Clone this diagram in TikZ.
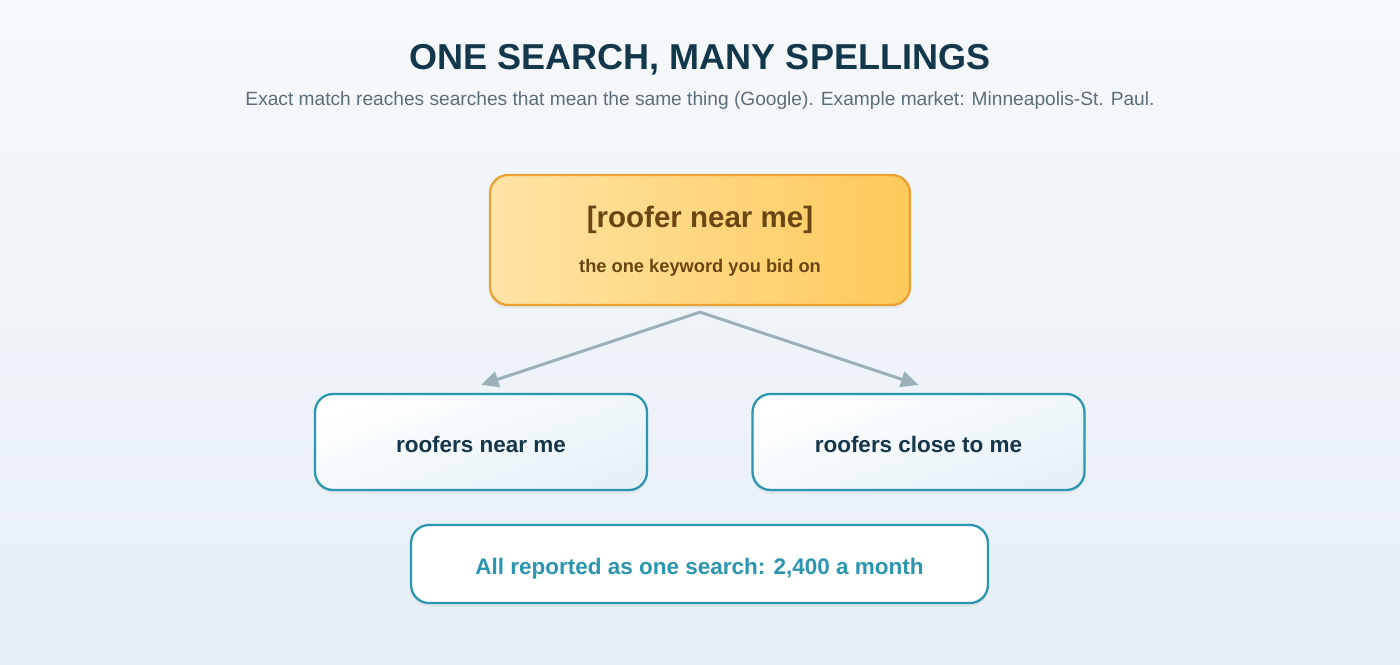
\documentclass[tikz,border=0pt]{standalone}
\usepackage{fontspec}
\setmainfont{Liberation Sans}
\usetikzlibrary{arrows.meta,shadows}

\definecolor{bgtop}{HTML}{F6F9FC}
\definecolor{bgbot}{HTML}{E6EEF4}
\definecolor{titleblue}{HTML}{13374B}
\definecolor{subgray}{HTML}{5B6E7A}
\definecolor{kwleft}{HTML}{FFE4A6}
\definecolor{kwright}{HTML}{FFC95A}
\definecolor{kwborder}{HTML}{E9A131}
\definecolor{kwtext}{HTML}{6A4712}
\definecolor{teal}{HTML}{2C95AF}
\definecolor{childlo}{HTML}{E5F1F7}
\definecolor{childtext}{HTML}{15364A}
\definecolor{arrowgray}{HTML}{9CB0B9}

\tikzset{
  box/.style={rounded corners=0.36cm, line width=1.3pt, inner sep=0pt,
    drop shadow={opacity=0.10, shadow xshift=0pt, shadow yshift=-2pt}},
  keybox/.style={box, draw=kwborder, left color=kwleft, right color=kwright,
    minimum width=8.4cm, minimum height=2.6cm},
  spellbox/.style={box, draw=teal, top color=white, bottom color=childlo,
    shading angle=20, minimum width=6.64cm, minimum height=1.92cm},
  totalbox/.style={box, draw=teal, fill=white,
    minimum width=11.54cm, minimum height=1.56cm},
  flow/.style={draw=arrowgray, line width=1.7pt, -{Triangle[length=10pt,width=9pt]}}
}

\begin{document}
\begin{tikzpicture}[x=0.02cm,y=-0.02cm]
\shade[top color=bgtop, bottom color=bgbot] (0,0) rectangle (1400,665);
\useasboundingbox (0,0) rectangle (1400,665);

% heading
\node[anchor=base, text=titleblue, font=\bfseries\fontsize{20.5}{24}\selectfont] (title) at (700,70) {ONE SEARCH, MANY SPELLINGS};
\node[anchor=base, text=subgray, font=\fontsize{10.9}{13}\selectfont] (subtitle) at (700,106) {Exact match reaches searches that mean the same thing (Google). Example market: Minneapolis-St. Paul.};

% the keyword
\node[keybox] (keyword) at (700,240) {};
\node[anchor=base, text=kwtext, font=\bfseries\fontsize{16.8}{20}\selectfont] (kwname) at (700,228) {[roofer near me]};
\node[anchor=base, text=kwtext, font=\bfseries\fontsize{10.4}{12}\selectfont] (kwnote) at (700,273) {the one keyword you bid on};

% the spellings
\node[spellbox] (near) at (481,442) {};
\node[anchor=base, text=childtext, font=\bfseries\fontsize{12.8}{15}\selectfont] (neartext) at (481,453) {roofers near me};
\node[spellbox] (close) at (918.5,442) {};
\node[anchor=base, text=childtext, font=\bfseries\fontsize{12.8}{15}\selectfont] (closetext) at (918.5,453) {roofers close to me};

% total
\node[totalbox] (total) at (699.5,564) {};
\node[anchor=base, text=teal, font=\bfseries\fontsize{12.8}{15}\selectfont] (totaltext) at (699.5,574) {All reported as one search: 2,400 a month};

\coordinate (fork) at ([yshift=-0.12cm]keyword.south);
\draw[flow] (fork) -- ([yshift=0.16cm]near.north);
\draw[flow] (fork) -- ([yshift=0.16cm]close.north);
\end{tikzpicture}
\end{document}
